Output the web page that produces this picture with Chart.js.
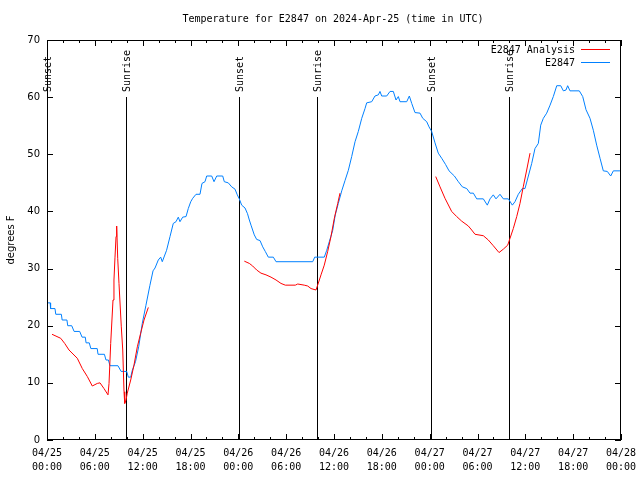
<!DOCTYPE html>
<html>
<head>
<meta charset="utf-8">
<script src="https://cdn.jsdelivr.net/npm/chart.js@4"></script>
<style>
  html, body { margin: 0; padding: 0; background: #fff; }
</style>
</head>
<body>
<canvas id="chart" width="640" height="480"></canvas>
<script>
// hours since 04/25 00:00 UTC
const obsHours = [0, 0.4, 0.45, 1.0, 1.1, 1.8, 1.9, 2.5, 2.6, 3.1, 3.4, 4.1, 4.4, 4.8, 4.9, 5.3, 5.5, 6.3, 6.4, 7.2,
  7.4, 7.7, 7.9, 8.9, 9.3, 10.0, 10.2, 10.5, 10.7, 11.1, 11.5, 11.95, 12.4, 12.9, 13.3, 13.55, 13.96, 14.26, 14.46, 15.0,
  15.43, 15.84, 16.18, 16.47, 16.68, 17.02, 17.44, 17.72, 18.03, 18.28, 18.69, 19.19, 19.44, 19.82, 20.03, 20.66, 20.95, 21.29, 22.04, 22.24,
  22.74, 23.17, 23.58, 23.87, 24.12, 24.42, 24.84, 25.15, 25.38, 25.59, 26.0, 26.3, 26.72, 27.06, 27.38, 27.76, 28.39, 28.73, 33.33, 33.58,
  34.78, 35.09, 35.41, 35.84, 36.16, 36.54, 36.97, 37.38, 37.8, 38.22, 38.64, 39.05, 39.48, 39.89, 40.1, 40.73, 41.14, 41.56, 41.77, 41.98,
  42.61, 43.03, 43.44, 43.78, 44.07, 44.28, 45.12, 45.45, 45.75, 46.16, 46.79, 47.13, 47.63, 47.92, 48.25, 48.67, 49.08, 49.51, 50.0, 50.43,
  51.1, 51.6, 52.1, 52.65, 53.06, 53.48, 53.9, 54.73, 55.23, 55.57, 55.98, 56.32, 56.82, 57.24, 57.87, 58.37, 58.7, 59.12, 59.62, 59.96,
  60.38, 60.8, 61.21, 61.63, 61.93, 62.26, 62.68, 63.1, 63.51, 63.94, 64.44, 64.77, 65.1, 65.31, 65.6, 66.77, 67.2, 67.61, 68.11, 68.53,
  68.95, 69.37, 69.78, 70.28, 70.71, 71.04, 71.87];
const obsTemps = [24, 24, 23, 23, 22, 22, 21, 21, 20, 20, 19, 19, 18, 18, 17, 17, 16, 16, 15, 15,
  14, 14, 13, 13, 12, 12, 11, 11, 12.2, 13.7, 16.3, 20.4, 23.5, 27, 29.6, 30.1, 31.5, 32, 31.2, 33.2,
  35.6, 37.9, 38.2, 39, 38.2, 39, 39.1, 40.5, 41.7, 42.3, 43, 43, 44.9, 45.2, 46.2, 46.2, 45.2, 46.2, 46.2, 45.2,
  45, 44.3, 43.9, 42.9, 42.2, 41.1, 40.6, 39.6, 38.5, 37.6, 35.9, 35.1, 34.9, 33.8, 33, 32, 32, 31.2, 31.2, 32,
  32, 33.2, 34.7, 36.7, 39.4, 41.4, 43.6, 45.4, 47.2, 49.6, 52.2, 54, 56.3, 58, 59, 59.2, 60.2, 60.4, 61, 60.2,
  60.2, 61, 61, 59.5, 60.1, 59.2, 59.2, 60.2, 58.9, 57.3, 57.2, 56.3, 55.7, 54.8, 54, 52, 50.2, 49.3, 48.2, 47.1,
  46.2, 45.2, 44.3, 44, 43.2, 43.2, 42.2, 42.2, 41.1, 42.2, 42.9, 42.2, 43, 42.2, 42.2, 41.1, 41.7, 43, 44, 44,
  46.2, 48.4, 51, 51.9, 55.1, 56.3, 57.2, 58.6, 60.1, 62, 62, 61.1, 61.25, 62, 61.1, 61.1, 60.1, 57.8, 56.3, 54.2,
  51.6, 49.3, 47.1, 47, 46.2, 47.1, 47.1];

// analysis runs, null = gap between runs
const anaHours = [0.63, 1.72, 2.22, 2.76, 3.8, 4.43, 5.06, 5.68, 6.31, 6.65, 7.15, 7.65, 7.78, 7.99, 8.28, 8.4, 8.53, 8.66, 8.74, 8.87,
  9.03, 9.32, 9.5, 9.66, 9.75, 9.91, 10.07, 10.5, 10.91, 11.33, 11.75, 12.17, 12.71, 18,
  24.75, 25.38, 25.8, 26.3, 26.84, 27.47, 28.1, 28.73, 29.35, 29.89, 31.15, 31.45, 32.27, 32.7, 33.12, 33.74, 33.95, 34.37, 34.78, 35.21,
  35.62, 36.04, 36.47, 36.75, 42,
  48.76, 49.3, 49.92, 50.76, 51.39, 52.02, 52.85, 53.27, 53.69, 54.73, 55.36, 55.98, 56.7, 57.24, 57.79, 58.08, 58.49, 58.92, 59.33, 59.74,
  60.17, 60.59];
const anaTemps = [18.5, 17.8, 16.9, 15.75, 14.3, 12.5, 11.1, 9.45, 9.9, 10.0, 9.0, 7.9, 9.9, 16.9, 24.5, 28, 32, 35.6, 37.45, 31.8,
  27.4, 19.8, 15.75, 8.45, 6.4, 7.0, 8.2, 10.5, 13.1, 16.3, 18.7, 21, 23.2, null,
  31.3, 30.9, 30.45, 29.75, 29.2, 28.9, 28.5, 28, 27.4, 27.1, 27.1, 27.3, 27.1, 26.95, 26.5, 26.25, 27.1, 28.9, 30.6, 33,
  35.6, 38.8, 41.4, 43.2, null,
  46.1, 44.3, 42.3, 40, 39.1, 38.3, 37.45, 36.75, 36, 35.75, 35, 34, 32.8, 33.4, 34.1, 35.3, 37, 39.1, 41.4, 44.3,
  47.25, 50.2];

const eventHours  = [0.05, 9.95, 24.1, 33.9, 48.2, 57.95];
const eventLabels = ["Sunset", "Sunrise", "Sunset", "Sunrise", "Sunset", "Sunrise"];

const dayLabels  = ["04/25", "04/26", "04/27", "04/28"];
const seriesNames = ["E2847 Analysis", "E2847"];
const titleText = "Temperature for E2847 on 2024-Apr-25 (time in UTC)";

const red  = "#ff0000";
const blue = "#0080ff";
const mono = "'DejaVu Sans Mono', monospace";
const sans = "'DejaVu Sans', sans-serif";

const pad2 = n => String(n).padStart(2, "0");

const deco = {
  id: "deco",
  beforeDatasetsDraw(chart) {
    const { ctx, chartArea: a, scales: { x } } = chart;
    ctx.save();
    ctx.strokeStyle = "#000";
    ctx.lineWidth = 1;
    ctx.font = "10px " + mono;
    ctx.fillStyle = "#000";
    eventHours.forEach((h, i) => {
      const px = Math.round(x.getPixelForValue(h)) + 0.5;
      ctx.beginPath();
      ctx.moveTo(px, 97);
      ctx.lineTo(px, a.bottom);
      ctx.stroke();
      ctx.save();
      ctx.translate(px + 1, 92);
      ctx.rotate(-Math.PI / 2);
      ctx.textAlign = "left";
      ctx.textBaseline = "middle";
      ctx.fillText(eventLabels[i], 0, 0);
      ctx.restore();
    });
    ctx.restore();
  },
  afterDraw(chart) {
    const { ctx, chartArea: a, scales: { x, y } } = chart;
    ctx.save();
    ctx.strokeStyle = "#000";
    ctx.lineWidth = 1;
    ctx.strokeRect(a.left + 0.5, a.top + 0.5, a.right - a.left - 1, a.bottom - a.top - 1);
    ctx.beginPath();
    for (let h = 0; h <= 72; h += 2) {
      const px = Math.round(x.getPixelForValue(h)) + 0.5;
      const len = h % 6 === 0 ? 6 : 3;
      ctx.moveTo(px, a.bottom); ctx.lineTo(px, a.bottom - len);
      ctx.moveTo(px, a.top);    ctx.lineTo(px, a.top + len);
    }
    for (let v = 0; v <= 70; v += 10) {
      const py = Math.round(y.getPixelForValue(v)) + 0.5;
      ctx.moveTo(a.left, py);  ctx.lineTo(a.left + 6, py);
      ctx.moveTo(a.right, py); ctx.lineTo(a.right - 6, py);
    }
    ctx.stroke();

    ctx.fillStyle = "#000";
    ctx.font = "10px " + mono;
    ctx.textAlign = "center";
    ctx.textBaseline = "middle";
    ctx.fillText(titleText, 333, 19);

    // legend, top right
    ctx.textAlign = "right";
    [red, blue].forEach((c, i) => {
      const ly = 50.5 + i * 13;
      ctx.fillStyle = "#000";
      ctx.fillText(seriesNames[i], 575, ly);
      ctx.strokeStyle = c;
      ctx.beginPath();
      ctx.moveTo(581, ly - 1);
      ctx.lineTo(610, ly - 1);
      ctx.stroke();
    });
    ctx.restore();
  }
};

new Chart(document.getElementById("chart"), {
  type: "line",
  data: {
    datasets: [
      { label: seriesNames[0], data: anaHours.map((h, i) => ({ x: h, y: anaTemps[i] })),
        borderColor: red, borderWidth: 1, pointRadius: 0, tension: 0, spanGaps: false },
      { label: seriesNames[1], data: obsHours.map((h, i) => ({ x: h, y: obsTemps[i] })),
        borderColor: blue, borderWidth: 1, pointRadius: 0, tension: 0 }
    ]
  },
  options: {
    responsive: false,
    animation: false,
    devicePixelRatio: 1,
    layout: { padding: { top: 40, right: 19, left: 0, bottom: 0 } },
    plugins: { legend: { display: false }, title: { display: false }, tooltip: { enabled: false } },
    scales: {
      x: {
        type: "linear", min: 0, max: 72,
        grid: { display: false, drawTicks: false },
        border: { display: false },
        ticks: {
          stepSize: 6, padding: 7, color: "#000", maxRotation: 0, autoSkip: false,
          font: { family: mono, size: 10, lineHeight: 1.35 },
          callback: v => [dayLabels[Math.floor(v / 24)], pad2(v % 24) + ":00"]
        },
        afterFit: s => { s.height = 40; s.paddingLeft = 0; s.paddingRight = 0; }
      },
      y: {
        min: 0, max: 70,
        grid: { display: false, drawTicks: false },
        border: { display: false },
        ticks: { stepSize: 10, padding: 7, color: "#000", font: { family: sans, size: 10 } },
        title: { display: true, text: "degrees F", color: "#000", font: { family: sans, size: 10 }, padding: { top: 5, bottom: 0 } },
        afterFit: s => { s.width = 47; s.paddingTop = 0; s.paddingBottom = 0; }
      }
    }
  },
  plugins: [deco]
});
</script>
</body>
</html>
